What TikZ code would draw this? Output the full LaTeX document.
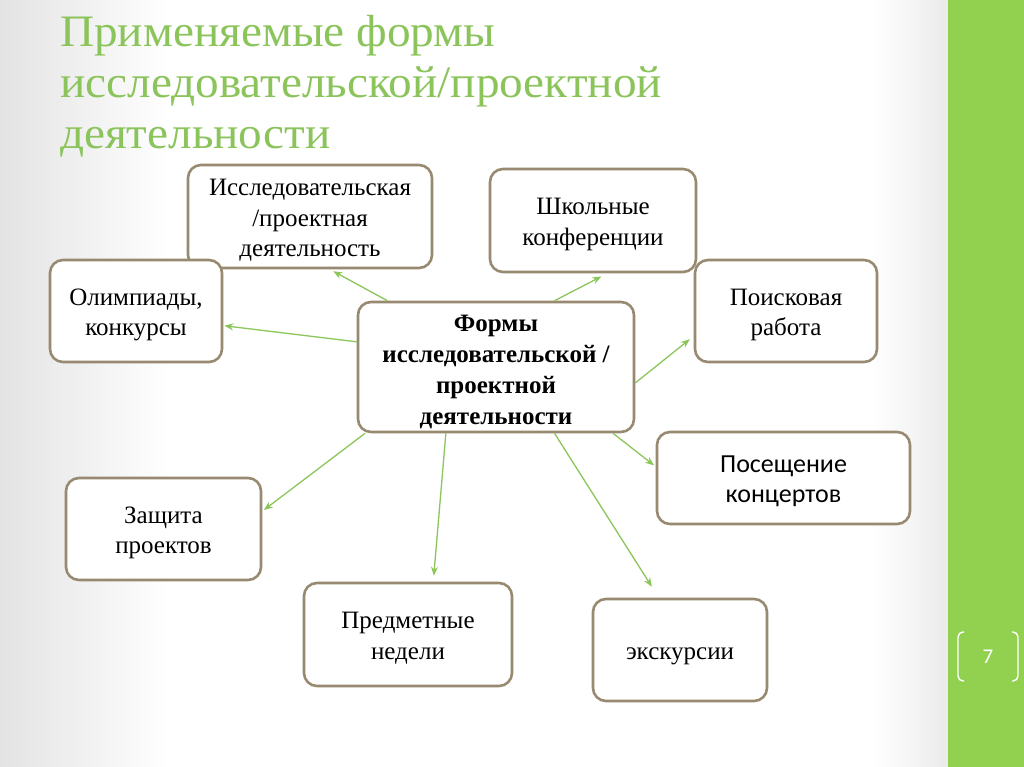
\documentclass[tikz,border=0pt]{standalone}
\usepackage{fontspec}
\setmainfont{Liberation Serif}
\newfontfamily\carl{Carlito}
\newfontfamily\titlefont[FakeStretch=1.05]{Liberation Serif}
\usetikzlibrary{calc,arrows.meta}
\definecolor{titlegreen}{RGB}{140,196,92}
\definecolor{bargreen}{RGB}{146,208,80}
\definecolor{boxborder}{RGB}{152,138,112}
\definecolor{arrowgreen}{RGB}{140,198,90}
\newcommand\tpad[1][24pt]{\rule{0pt}{#1}}
\tikzset{
  box/.style={draw=boxborder, line width=2.6pt, rounded corners=13pt, fill=white,
    align=center, font=\fontsize{25}{30.5}\selectfont, inner sep=0pt},
  conn/.style={draw=arrowgreen, line width=1.3pt, -{Stealth[length=9pt,width=7pt]}},
}
\begin{document}
\begin{tikzpicture}[x=1pt,y=-1pt]
\useasboundingbox (0,0) rectangle (1024,767);
\fill[white] (0,0) rectangle (948,767);
\shade[left color=black!11, right color=white] (0,0) rectangle (170,767);
\shade[left color=white, right color=black!7] (870,0) rectangle (940,767);
\fill[black!8] (940,0) rectangle (948,767);
\fill[bargreen] (948,0) rectangle (1024,767);
% page number
\draw[white, line width=1.4pt, rounded corners=5pt] (964,632) -- (958,632) -- (958,681) -- (964,681);
\draw[white, line width=1.4pt, rounded corners=5pt] (1012,632) -- (1018,632) -- (1018,681) -- (1012,681);
\node[white, font=\carl\fontsize{21}{24}\selectfont] (pnum) at (988,657) {7};
% title
\node[anchor=north west, align=left, text=titlegreen, inner sep=0pt,
  font=\titlefont\fontsize{45}{51}\selectfont] (title) at (60,15)
  {Применяемые формы\\исследовательской/проектной\\деятельности};
% nodes
\node[box, font=\bfseries\fontsize{25}{31}\selectfont,
  minimum width=276pt, minimum height=130pt] (c) at (496,367)
  {\tpad[27pt]Формы\\исследовательской /\\проектной\\деятельности};
\node[box, minimum width=244pt, minimum height=103pt] (n1) at (310,216.5)
  {\tpad Исследовательская\\/проектная\\деятельность};
\node[box, minimum width=206pt, minimum height=103pt] (n2) at (593,220.5)
  {\tpad Школьные\\конференции};
\node[box, minimum width=172pt, minimum height=102pt] (n3) at (136,311)
  {\tpad Олимпиады,\\конкурсы};
\node[box, minimum width=182pt, minimum height=102pt] (n4) at (786,311)
  {\tpad Поисковая\\работа};
\node[box, font=\carl\fontsize{26}{30}\selectfont, minimum width=253pt, minimum height=92pt] (n5) at (783.5,478)
  {\tpad Посещение\\концертов};
\node[box, minimum width=195pt, minimum height=102pt] (n6) at (163.5,529)
  {\tpad Защита\\проектов};
\node[box, minimum width=208pt, minimum height=103pt] (n7) at (408,634.5)
  {\tpad Предметные\\недели};
\node[box, minimum width=174pt, minimum height=102pt] (n8) at (680,650)
  {\tpad экскурсии};
% connectors
\draw[conn, shorten >=4pt] ($(c.north west)!0.11!(c.north east)$) -- ($(n1.south west)!0.58!(n1.south east)$);
\draw[conn, shorten >=7pt] ($(c.north west)!0.71!(c.north east)$) -- ($(n2.south west)!0.57!(n2.south east)$);
\draw[conn, shorten >=1pt] ($(c.north west)!0.31!(c.south west)$) -- ($(n3.north east)!0.64!(n3.south east)$);
\draw[conn, shorten >=5pt] ($(c.north east)!0.62!(c.south east)$) -- ($(n4.north west)!0.74!(n4.south west)$);
\draw[conn, shorten >=2pt] ($(c.south west)!0.92!(c.south east)$) -- ($(n5.north west)!0.38!(n5.south west)$);
\draw[conn, shorten >=2pt] ($(c.south west)!0.03!(c.south east)$) -- ($(n6.north east)!0.33!(n6.south east)$);
\draw[conn, shorten >=6pt] ($(c.south west)!0.32!(c.south east)$) -- ($(n7.north west)!0.62!(n7.north east)$);
\draw[conn, shorten >=13pt] ($(c.south west)!0.71!(c.south east)$) -- ($(n8.north west)!0.38!(n8.north east)$);
\end{tikzpicture}
\end{document}
